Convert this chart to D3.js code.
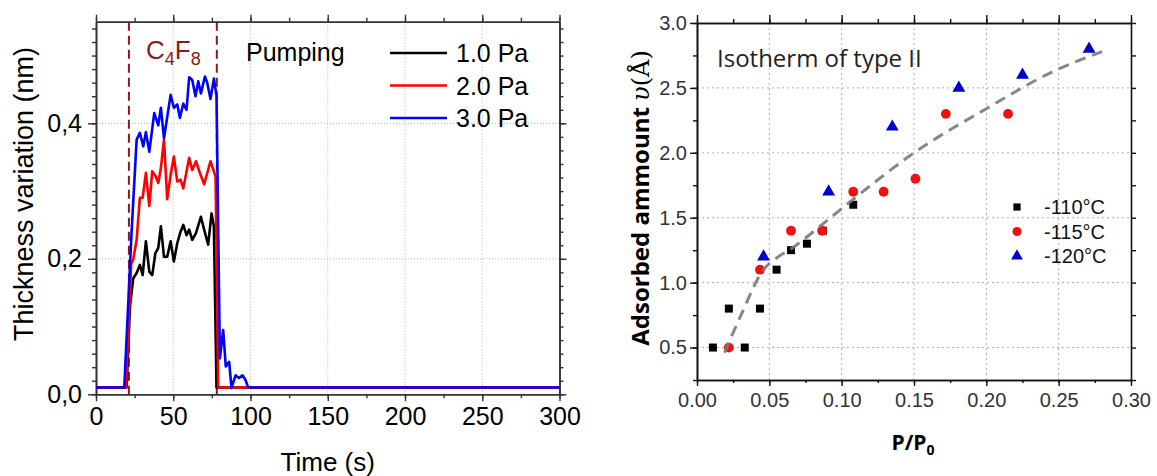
<!DOCTYPE html>
<html>
<head>
<meta charset="utf-8">
<script src="https://cdn.jsdelivr.net/npm/d3@7"></script>
<style>
  html, body { margin: 0; padding: 0; background: #fff; }
  svg { display: block; }
</style>
</head>
<body>
<svg id="chart" width="1157" height="476"></svg>
<script>
// ---------- Left panel: thickness variation during C4F8 exposure ----------
const pressureLabels = ["1.0 Pa", "2.0 Pa", "3.0 Pa"];
const pressureColors = ["#000000", "#ff0000", "#0000ff"];

const time1 = [0, 19.8, 22, 24.1, 26.3, 28.4, 30.2, 32.3, 34.5, 36.4, 38.4, 40.3, 42, 44, 46.1, 48.3, 50.4, 52.6, 54.7, 56.5, 58.6, 60.3, 62.3, 64.7, 67.9, 70, 72.6, 74.8, 76.3, 78, 300];
const thick1 = [0.01, 0.01, 0.13, 0.171, 0.179, 0.191, 0.176, 0.226, 0.181, 0.176, 0.208, 0.216, 0.248, 0.203, 0.203, 0.226, 0.196, 0.223, 0.240, 0.250, 0.235, 0.243, 0.228, 0.238, 0.262, 0.243, 0.221, 0.267, 0.248, 0.01, 0.01];

const time2 = [0, 19.4, 22.8, 24.1, 26.3, 28.4, 30.2, 32.3, 34.5, 36.4, 38.4, 40.3, 42, 44, 46.1, 48.3, 50.4, 52.6, 54.7, 56.5, 60.3, 62.3, 64.7, 67.2, 70, 74.1, 76.3, 77.4, 79.1, 300];
const thick2 = [0.01, 0.01, 0.193, 0.199, 0.228, 0.29, 0.29, 0.327, 0.278, 0.329, 0.323, 0.312, 0.334, 0.376, 0.288, 0.324, 0.351, 0.314, 0.317, 0.304, 0.349, 0.331, 0.344, 0.327, 0.31, 0.344, 0.329, 0.321, 0.01, 0.01];

const time3 = [0, 18.3, 23, 26.3, 28.4, 30.6, 32.3, 34.5, 37.7, 40.3, 42, 44, 48.3, 50.4, 52.6, 54.3, 56.5, 58.6, 60.3, 62.3, 64.4, 66.2, 67.9, 70.5, 72, 74.1, 76.3, 78, 80.2, 82.3, 84, 86.2, 87.7, 90.3, 92.5, 94.8, 96.8, 98.5, 300];
const thick3 = [0.01, 0.01, 0.238, 0.376, 0.386, 0.366, 0.387, 0.358, 0.415, 0.397, 0.423, 0.378, 0.442, 0.423, 0.428, 0.408, 0.429, 0.420, 0.468, 0.464, 0.44, 0.462, 0.444, 0.469, 0.460, 0.436, 0.466, 0.441, 0.053, 0.095, 0.041, 0.048, 0.009, 0.028, 0.024, 0.028, 0.021, 0.01, 0.01];

const timeTicks = [0, 50, 100, 150, 200, 250, 300];
const thickTicks = [0, 0.2, 0.4];
const thickTickLabels = ["0,0", "0,2", "0,4"];
const gasWindow = [21.3, 78.2];   // C4F8 on / off (s)

// ---------- Right panel: adsorption isotherm ----------
const tempLabels = ["-110°C", "-115°C", "-120°C"];
const tempColors = ["#000000", "#ee1111", "#0000cc"];
const p110 = [0.011, 0.022, 0.033, 0.0435, 0.055, 0.065, 0.076, 0.087, 0.108];
const v110 = [0.5, 0.8, 0.5, 0.8, 1.1, 1.25, 1.3, 1.4, 1.6];
const p115 = [0.022, 0.0435, 0.065, 0.0865, 0.108, 0.129, 0.151, 0.172, 0.215];
const v115 = [0.5, 1.1, 1.4, 1.4, 1.7, 1.7, 1.8, 2.3, 2.3];
const p120 = [0.046, 0.091, 0.135, 0.181, 0.225, 0.271];
const v120 = [1.2, 1.7, 2.2, 2.5, 2.6, 2.8];
const fitP = [0.019, 0.03, 0.046, 0.055, 0.065, 0.09, 0.11, 0.15, 0.2, 0.245, 0.28];
const fitV = [0.46, 0.74, 1.1, 1.19, 1.26, 1.48, 1.66, 2.0, 2.34, 2.62, 2.78];
const pTicks = [0, 0.05, 0.1, 0.15, 0.2, 0.25, 0.3];
const vTicks = [0.5, 1.0, 1.5, 2.0, 2.5, 3.0];

const svg = d3.select("#chart");
const SANS = "'Liberation Sans', Arial, sans-serif";

// ================= LEFT PANEL =================
const L = { left: 96, right: 559.5, top: 21.7, bottom: 394.3 };
const xL = d3.scaleLinear().domain([0, 300]).range([L.left, L.right]);
const yL = d3.scaleLinear().domain([0, 0.55]).range([L.bottom, L.top]);
const gL = svg.append("g");

// dotted grid
gL.append("g").selectAll("line").data(timeTicks.filter(t => t > 0 && t < 300)).join("line")
  .attr("x1", d => xL(d)).attr("x2", d => xL(d)).attr("y1", L.top).attr("y2", L.bottom)
  .attr("stroke", "#b8b8b8").attr("stroke-width", 1).attr("stroke-dasharray", "1,2");
gL.append("g").selectAll("line").data(thickTicks.filter(t => t > 0)).join("line")
  .attr("x1", L.left).attr("x2", L.right).attr("y1", d => yL(d)).attr("y2", d => yL(d))
  .attr("stroke", "#b8b8b8").attr("stroke-width", 1).attr("stroke-dasharray", "1,2");

// axes with outward ticks on all four sides
const minorT = d3.range(0, 301, 25);
const minorY = d3.range(0, 0.5501, 0.02);
function styleAxis(g) {
  g.select(".domain").attr("stroke", "#333").attr("stroke-width", 1.6);
  g.selectAll(".tick line").attr("stroke", "#333").attr("stroke-width", 1.4);
}
gL.append("g").attr("transform", `translate(0,${L.bottom})`)
  .call(d3.axisBottom(xL).tickValues(minorT).tickSize(4).tickFormat("").tickSizeOuter(0)).call(styleAxis);
gL.append("g").attr("transform", `translate(0,${L.bottom})`)
  .call(d3.axisBottom(xL).tickValues(timeTicks).tickSize(7).tickSizeOuter(0).tickPadding(6).tickFormat(d3.format("d")))
  .call(styleAxis)
  .call(g => g.selectAll("text").attr("font-family", SANS).attr("font-size", 25).attr("fill", "#000"));
gL.append("g").attr("transform", `translate(0,${L.top})`)
  .call(d3.axisTop(xL).tickValues(minorT).tickSize(4).tickFormat("").tickSizeOuter(0)).call(styleAxis);
gL.append("g").attr("transform", `translate(0,${L.top})`)
  .call(d3.axisTop(xL).tickValues(timeTicks).tickSize(7).tickFormat("").tickSizeOuter(0)).call(styleAxis);
gL.append("g").attr("transform", `translate(${L.left},0)`)
  .call(d3.axisLeft(yL).tickValues(minorY).tickSize(4).tickFormat("").tickSizeOuter(0)).call(styleAxis);
gL.append("g").attr("transform", `translate(${L.left},0)`)
  .call(d3.axisLeft(yL).tickValues(thickTicks).tickSize(8).tickSizeOuter(0).tickPadding(6)
    .tickFormat((d, i) => thickTickLabels[i]))
  .call(styleAxis)
  .call(g => g.selectAll("text").attr("font-family", SANS).attr("font-size", 25).attr("fill", "#000"));
gL.append("g").attr("transform", `translate(${L.right},0)`)
  .call(d3.axisRight(yL).tickValues(minorY).tickSize(4).tickFormat("").tickSizeOuter(0)).call(styleAxis);
gL.append("g").attr("transform", `translate(${L.right},0)`)
  .call(d3.axisRight(yL).tickValues(thickTicks).tickSize(7).tickFormat("").tickSizeOuter(0)).call(styleAxis);

// C4F8 exposure window
gL.append("g").selectAll("line").data(gasWindow).join("line")
  .attr("x1", d => xL(d)).attr("x2", d => xL(d)).attr("y1", L.top).attr("y2", L.bottom)
  .attr("stroke", "#8b1a1a").attr("stroke-width", 2).attr("stroke-dasharray", "9,5");

// traces
const traces = [
  { t: time1, v: thick1 },
  { t: time2, v: thick2 },
  { t: time3, v: thick3 }
];
const lineL = d3.line().x(d => xL(d[0])).y(d => yL(d[1]));
traces.forEach((s, i) => {
  gL.append("path")
    .attr("d", lineL(s.t.map((t, j) => [t, s.v[j]])))
    .attr("fill", "none").attr("stroke", pressureColors[i])
    .attr("stroke-width", 2.6).attr("stroke-linejoin", "round");
});

// labels
const c4f8 = gL.append("text").attr("x", 146).attr("y", 59)
  .attr("font-family", SANS).attr("font-size", 26).attr("fill", "#8b1a1a");
c4f8.append("tspan").text("C");
c4f8.append("tspan").attr("font-size", 18).attr("dy", 6).text("4");
c4f8.append("tspan").attr("dy", -6).text("F");
c4f8.append("tspan").attr("font-size", 18).attr("dy", 6).text("8");

gL.append("text").attr("x", 246).attr("y", 61)
  .attr("font-family", SANS).attr("font-size", 25).attr("fill", "#000").text("Pumping");

const legL = gL.append("g");
pressureLabels.forEach((lab, i) => {
  const y = 53 + i * 32.5;
  legL.append("line").attr("x1", 390).attr("x2", 447).attr("y1", y).attr("y2", y)
    .attr("stroke", pressureColors[i]).attr("stroke-width", 2.6);
  legL.append("text").attr("x", 456).attr("y", y).attr("dy", "0.36em")
    .attr("font-family", SANS).attr("font-size", 25).attr("fill", "#000").text(lab);
});

gL.append("text").attr("x", (L.left + L.right) / 2).attr("y", 471)
  .attr("text-anchor", "middle").attr("font-family", SANS).attr("font-size", 26)
  .attr("fill", "#000").text("Time (s)");
gL.append("text").attr("transform", `translate(33,${(L.top + L.bottom) / 2 - 14}) rotate(-90)`)
  .attr("text-anchor", "middle").attr("font-family", SANS).attr("font-size", 27)
  .attr("fill", "#000").text("Thickness variation (nm)");

// ================= RIGHT PANEL =================
const R = { left: 697, right: 1131, top: 23, bottom: 380 };
const xR = d3.scaleLinear().domain([0, 0.3]).range([R.left, R.right]);
const yR = d3.scaleLinear().domain([0.25, 3.0]).range([R.bottom, R.top]);
const gR = svg.append("g");

gR.append("g").selectAll("line").data(pTicks.filter(p => p > 0 && p < 0.3)).join("line")
  .attr("x1", d => xR(d)).attr("x2", d => xR(d)).attr("y1", R.top).attr("y2", R.bottom)
  .attr("stroke", "#b0b0b0").attr("stroke-width", 1).attr("stroke-dasharray", "2,3");
gR.append("g").selectAll("line").data(vTicks.filter(v => v < 3)).join("line")
  .attr("x1", R.left).attr("x2", R.right).attr("y1", d => yR(d)).attr("y2", d => yR(d))
  .attr("stroke", "#b0b0b0").attr("stroke-width", 1).attr("stroke-dasharray", "2,3");

const minorP = d3.range(0, 0.3001, 0.025);
const minorV = d3.range(0.25, 3.0001, 0.25);
function styleAxisR(g) {
  g.select(".domain").attr("stroke", "#111").attr("stroke-width", 1.6);
  g.selectAll(".tick line").attr("stroke", "#111").attr("stroke-width", 1.4);
}
gR.append("g").attr("transform", `translate(0,${R.bottom})`)
  .call(d3.axisBottom(xR).tickValues(minorP).tickSize(3).tickFormat("").tickSizeOuter(0)).call(styleAxisR);
gR.append("g").attr("transform", `translate(0,${R.bottom})`)
  .call(d3.axisBottom(xR).tickValues(pTicks).tickSize(6).tickSizeOuter(0).tickPadding(7).tickFormat(d3.format(".2f")))
  .call(styleAxisR)
  .call(g => g.selectAll("text").attr("font-family", SANS).attr("font-size", 20).attr("fill", "#333"));
gR.append("g").attr("transform", `translate(0,${R.top})`)
  .call(d3.axisTop(xR).tickValues(minorP).tickSize(4).tickFormat("").tickSizeOuter(0)).call(styleAxisR);
gR.append("g").attr("transform", `translate(0,${R.top})`)
  .call(d3.axisTop(xR).tickValues(pTicks).tickSize(8).tickFormat("").tickSizeOuter(0)).call(styleAxisR);
gR.append("g").attr("transform", `translate(${R.left},0)`)
  .call(d3.axisLeft(yR).tickValues(minorV).tickSize(4).tickFormat("").tickSizeOuter(0)).call(styleAxisR);
gR.append("g").attr("transform", `translate(${R.left},0)`)
  .call(d3.axisLeft(yR).tickValues(vTicks).tickSize(7).tickSizeOuter(0).tickPadding(3).tickFormat(d3.format(".1f")))
  .call(styleAxisR)
  .call(g => g.selectAll("text").attr("font-family", SANS).attr("font-size", 20).attr("fill", "#333"));
gR.append("g").attr("transform", `translate(${R.right},0)`)
  .call(d3.axisRight(yR).tickValues(minorV).tickSize(5).tickFormat("").tickSizeOuter(0)).call(styleAxisR);

// markers
const sets = [
  { p: p110, v: v110, sym: d3.symbolSquare, size: 64 },
  { p: p115, v: v115, sym: d3.symbolCircle, size: 76 },
  { p: p120, v: v120, sym: d3.symbolTriangle, size: 72 }
];
sets.forEach((s, i) => {
  gR.append("g").selectAll("path").data(s.p.map((p, j) => [p, s.v[j]])).join("path")
    .attr("transform", d => `translate(${xR(d[0])},${yR(d[1])})`)
    .attr("d", d3.symbol().type(s.sym).size(s.size))
    .attr("fill", tempColors[i]);
});

// dashed guide curve
const fitLine = d3.line().x(d => xR(d[0])).y(d => yR(d[1])).curve(d3.curveMonotoneX);
gR.append("path")
  .attr("d", fitLine(fitP.map((p, j) => [p, fitV[j]])))
  .attr("fill", "none").attr("stroke", "#7a7a7a").attr("stroke-width", 3)
  .attr("stroke-dasharray", "11,7").attr("opacity", 0.9);

// legend
const legR = gR.append("g");
tempLabels.forEach((lab, i) => {
  const y = 207 + i * 24.5;
  legR.append("path").attr("transform", `translate(1017,${y})`)
    .attr("d", d3.symbol().type(sets[i].sym).size(sets[i].size - 12)).attr("fill", tempColors[i]);
  legR.append("text").attr("x", 1044).attr("y", y).attr("dy", "0.36em")
    .attr("font-family", SANS).attr("font-size", 20).attr("fill", "#111").text(lab);
});

gR.append("text").attr("x", 717).attr("y", 67)
  .attr("font-family", "'Open Sans', sans-serif").attr("font-size", 24).attr("fill", "#222")
  .text("Isotherm of type II");

// axis titles
const xt = gR.append("text").attr("x", 913).attr("y", 450).attr("text-anchor", "middle")
  .attr("font-family", "'Open Sans', sans-serif").attr("font-weight", 700).attr("font-size", 21).attr("fill", "#000");
xt.append("tspan").text("P/P");
xt.append("tspan").attr("font-size", 14).attr("dy", 5).text("0");

const yt = gR.append("text").attr("transform", `translate(649,198) rotate(-90)`).attr("text-anchor", "middle")
  .attr("font-family", "'Open Sans', sans-serif").attr("font-weight", 700).attr("font-size", 24).attr("fill", "#000");
yt.append("tspan").text("Adsorbed ammount ");
yt.append("tspan").attr("font-family", "'DejaVu Serif', serif").attr("font-style", "italic").attr("font-weight", 400).text("υ");
yt.append("tspan").attr("font-family", "'DejaVu Serif', serif").attr("font-weight", 400).text("(Å)");
</script>
</body>
</html>
